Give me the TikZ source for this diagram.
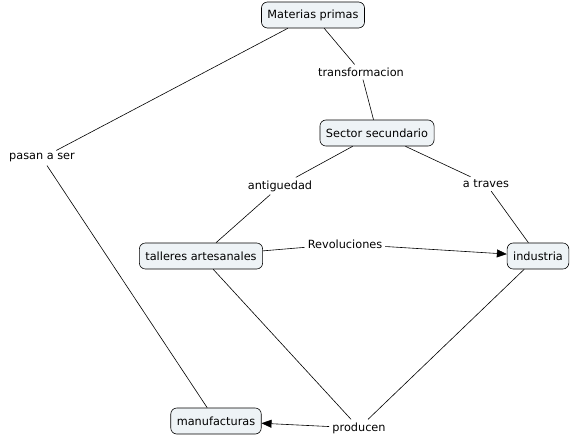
\documentclass[tikz,border=0pt]{standalone}
\usepackage{fontspec}
\setmainfont{DejaVu Sans}
\usetikzlibrary{arrows.meta}
\definecolor{conceptfill}{HTML}{EEF3F6}
\tikzset{
  concept/.style={draw=black,fill=conceptfill,rounded corners=6pt,line width=0.6pt,
    inner xsep=6pt,minimum height=26pt,font=\fontsize{11.3}{13}\selectfont},
  linkword/.style={inner sep=3pt,font=\fontsize{11.3}{13}\selectfont},
  link/.style={line width=0.6pt},
  linkarrow/.style={line width=0.6pt,-{Triangle[length=10pt,width=8pt]}}
}
\begin{document}
\begin{tikzpicture}[x=1pt,y=-1pt]
  \useasboundingbox (0,0) rectangle (575,437);
  % concepts
  \node[concept] (mp) at (313,15) {Materias primas};
  \node[concept] (sec) at (377,133) {Sector secundario};
  \node[concept] (tal) at (201,256) {talleres artesanales};
  \node[concept] (ind) at (538,256) {industria};
  \node[concept] (man) at (216,421) {manufacturas};
  % linking words
  \node[linkword] (trans) at (361,72) {transformacion};
  \node[linkword] (pas) at (42,158) {pasan a ser};
  \node[linkword] (ant) at (280,186) {antiguedad};
  \node[linkword] (atr) at (486,184) {a traves};
  \node[linkword] (rev) at (345,244) {Revoluciones};
  \node[linkword] (pro) at (359,428) {producen};
  % connections
  \draw[link] (mp) -- (trans) -- (sec);
  \draw[link] (mp) -- (pas) -- (man);
  \draw[link] (sec) -- (ant) -- (tal);
  \draw[link] (sec) -- (atr) -- (ind);
  \draw[link] (tal) -- (rev);
  \draw[linkarrow] (rev) -- (ind);
  \draw[link] (tal) -- (pro);
  \draw[link] (ind) -- (pro);
  \draw[linkarrow] (pro) -- (man);
\end{tikzpicture}
\end{document}
